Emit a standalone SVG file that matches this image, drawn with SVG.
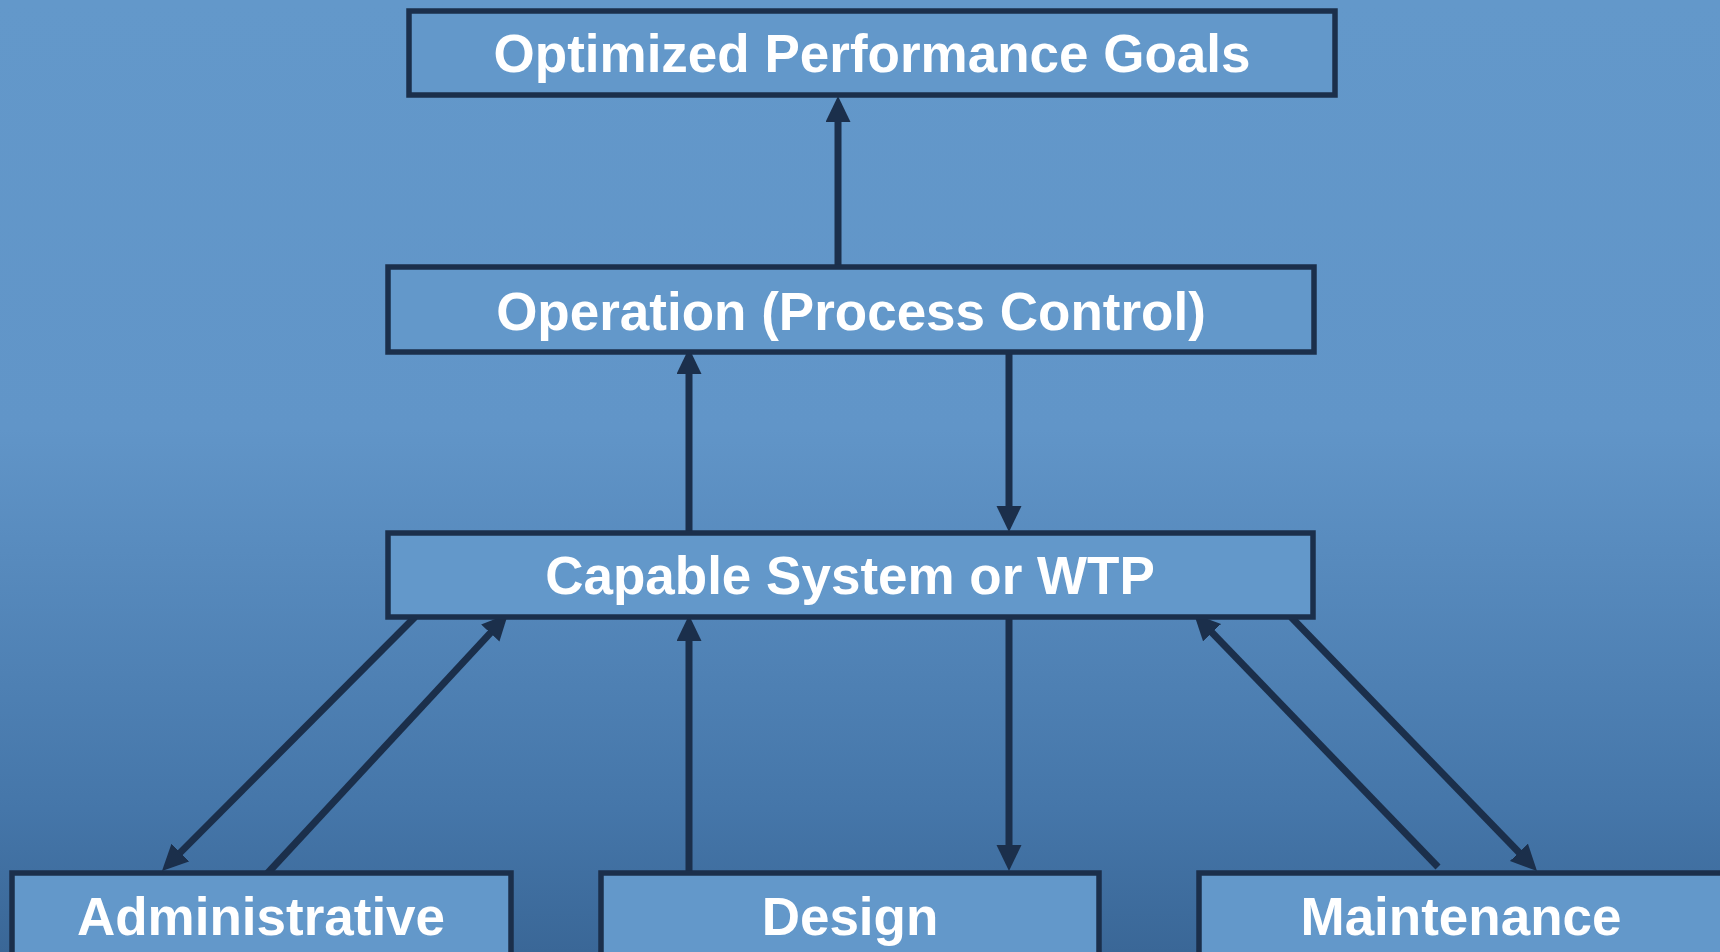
<svg xmlns="http://www.w3.org/2000/svg" width="1720" height="952" viewBox="0 0 1720 952">
<defs>
<linearGradient id="bg" x1="0" y1="0" x2="0" y2="1">
<stop offset="0" stop-color="#6398ca"/>
<stop offset="0.45" stop-color="#6195c8"/>
<stop offset="0.85" stop-color="#4576a9"/>
<stop offset="1" stop-color="#3a6797"/>
</linearGradient>
<marker id="ah" markerUnits="userSpaceOnUse" markerWidth="26" markerHeight="26" refX="4" refY="12.5" orient="auto">
<path d="M0,0 L26,12.5 L0,25 Z" fill="#1b2f4b"/>
</marker>
<style>
.box{fill:#6398ca;stroke:#1b2f4b;stroke-width:5.5}
.lbl{font-family:"Liberation Sans",Arial,sans-serif;font-weight:bold;font-size:53px;fill:#ffffff;text-anchor:middle}
.con{stroke:#1b2f4b;stroke-width:7;fill:none}
.arr{marker-end:url(#ah)}
</style>
</defs>
<rect x="0" y="0" width="1720" height="952" fill="url(#bg)"/>
<g id="connectors">
<line class="con arr" x1="838" y1="267" x2="838" y2="118"/>
<line class="con arr" x1="689" y1="533" x2="689" y2="370"/>
<line class="con arr" x1="1009" y1="343" x2="1009" y2="510"/>
<line class="con arr" x1="415" y1="617" x2="177.5" y2="855.4"/>
<line class="con arr" x1="264" y1="877" x2="493" y2="630.1"/>
<line class="con arr" x1="689" y1="872" x2="689" y2="637"/>
<line class="con arr" x1="1009" y1="617" x2="1009" y2="849"/>
<line class="con arr" x1="1438" y1="867" x2="1209.3" y2="629.8"/>
<line class="con arr" x1="1291" y1="617" x2="1521.7" y2="855.2"/>
</g>
<g id="node-goals">
<rect class="box" x="409" y="11" width="926" height="84"/>
<text class="lbl" x="872" y="72">Optimized Performance Goals</text>
</g>
<g id="node-operation">
<rect class="box" x="388" y="267" width="926" height="85"/>
<text class="lbl" x="851" y="330">Operation (Process Control)</text>
</g>
<g id="node-capable">
<rect class="box" x="388" y="533" width="925" height="84"/>
<text class="lbl" x="850" y="594">Capable System or WTP</text>
</g>
<g id="node-administrative">
<rect class="box" x="12" y="873" width="499" height="100"/>
<text class="lbl" x="261" y="935">Administrative</text>
</g>
<g id="node-design">
<rect class="box" x="601" y="873" width="498" height="100"/>
<text class="lbl" x="850" y="935">Design</text>
</g>
<g id="node-maintenance">
<rect class="box" x="1199" y="873" width="530" height="100"/>
<text class="lbl" x="1461" y="935">Maintenance</text>
</g>
</svg>
